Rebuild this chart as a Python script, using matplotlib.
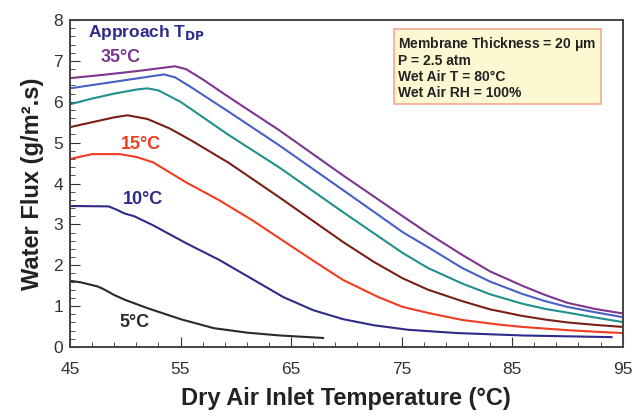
# Water flux vs dry air inlet temperature, one curve per approach dew point
import numpy as np
import matplotlib.pyplot as plt
from matplotlib.ticker import MultipleLocator

plt.rcParams['font.family'] = ['Liberation Sans', 'DejaVu Sans']

# curves
t_35 = [45, 48, 51, 54.5, 55.5, 57, 59.4, 63.9, 69.7, 75.1, 77.4, 80.5, 83, 85.9, 88, 90, 92.5, 95]
f_35 = [6.58, 6.66, 6.75, 6.87, 6.8, 6.55, 6.11, 5.31, 4.2, 3.2, 2.78, 2.25, 1.85, 1.5, 1.27, 1.08, 0.93, 0.82]

t_30 = [45, 48, 51, 53.5, 54.5, 56, 59.4, 63.9, 69.7, 75.1, 77.4, 80.5, 83, 85.9, 88, 90, 92.5, 95]
f_30 = [6.33, 6.45, 6.57, 6.67, 6.6, 6.35, 5.75, 4.94, 3.84, 2.81, 2.44, 1.93, 1.6, 1.3, 1.12, 0.98, 0.85, 0.73]

t_25 = [45, 47, 49, 51, 52, 53, 55, 59.4, 63.9, 69.7, 75.1, 77.4, 80.5, 83, 85.9, 88, 90, 92.5, 95]
f_25 = [5.94, 6.08, 6.2, 6.3, 6.33, 6.28, 6.0, 5.18, 4.4, 3.3, 2.3, 1.93, 1.55, 1.29, 1.06, 0.93, 0.84, 0.72, 0.61]

t_20 = [45, 47, 49, 50.2, 52, 54, 56, 59.4, 63.9, 69.7, 72.5, 75.1, 77.4, 80.5, 83, 85.9, 88, 90, 92.5, 95]
f_20 = [5.38, 5.5, 5.62, 5.67, 5.58, 5.35, 5.05, 4.5, 3.67, 2.57, 2.08, 1.68, 1.4, 1.12, 0.92, 0.76, 0.67, 0.6, 0.54, 0.49]

t_15 = [45, 47, 49.5, 51, 52.5, 55.5, 58.5, 61.5, 64, 66.9, 69.7, 72.9, 75.1, 77.6, 80.5, 83.7, 85.9, 90, 92.7, 95]
f_15 = [4.6, 4.72, 4.72, 4.65, 4.52, 4.03, 3.59, 3.1, 2.65, 2.13, 1.64, 1.22, 0.98, 0.82, 0.66, 0.55, 0.49, 0.41, 0.37, 0.34]

t_10 = [45, 48.5, 49.3, 49.9, 50.8, 52.5, 55.5, 58.5, 61.5, 64.3, 67, 69.7, 72.5, 75.6, 80, 86, 90, 94]
f_10 = [3.45, 3.44, 3.35, 3.27, 3.2, 2.98, 2.54, 2.13, 1.66, 1.22, 0.9, 0.68, 0.53, 0.42, 0.34, 0.28, 0.26, 0.24]

t_5 = [45, 46, 47.5, 48, 49, 50, 52, 55, 58, 61, 64, 67.9]
f_5 = [1.62, 1.58, 1.48, 1.42, 1.27, 1.15, 0.95, 0.68, 0.46, 0.35, 0.28, 0.22]

curves = [
    (t_35, f_35, '#7d3590'),
    (t_30, f_30, '#4660c8'),
    (t_25, f_25, '#21908a'),
    (t_20, f_20, '#7a1e18'),
    (t_15, f_15, '#f23c22'),
    (t_10, f_10, '#2e2a88'),
    (t_5, f_5, '#2a2a2a'),
]

fig = plt.figure(figsize=(6.33, 4.19), dpi=100)
ax = fig.add_axes([0.1106, 0.172, 0.873, 0.78])

for t, f, c in curves:
    ax.plot(t, f, color=c, lw=1.5, solid_joinstyle='round')

ax.set_xlim(45, 95)
ax.set_ylim(0, 8)
ax.set_xticks(np.arange(45, 96, 10))
ax.set_xticks(np.arange(45, 96, 2), minor=True)
ax.yaxis.set_major_locator(MultipleLocator(1))
ax.yaxis.set_minor_locator(MultipleLocator(0.2))
ax.tick_params(which='both', direction='in', colors='#333333', labelcolor='#333333')
ax.tick_params(axis='x', which='major', length=7, pad=11, labelsize=12.5)
ax.tick_params(axis='y', which='major', length=7, pad=5, labelsize=12.5)
ax.tick_params(which='minor', length=3.5)
for s in ax.spines.values():
    s.set_color('#444444')
    s.set_linewidth(1.4)

ax.set_xlabel('Dry Air Inlet Temperature (°C)', fontsize=17, fontweight='bold',
              color='#222222', labelpad=7)
ax.set_ylabel('Water Flux (g/m².s)', fontsize=17, fontweight='bold',
              color='#222222', labelpad=7)

# curve labels
ax.text(46.6, 7.7, 'Approach T$_{\\mathbf{DP}}$', color='#2e2a88', fontsize=12.5,
        fontweight='bold', va='center')
ax.text(49.6, 7.08, '35°C', color='#7d3590', fontsize=13, fontweight='bold',
        ha='center', va='center')
ax.text(51.4, 4.96, '15°C', color='#f23c22', fontsize=13, fontweight='bold',
        ha='center', va='center')
ax.text(51.6, 3.62, '10°C', color='#2e2a88', fontsize=13, fontweight='bold',
        ha='center', va='center')
ax.text(50.8, 0.61, '5°C', color='#2a2a2a', fontsize=13, fontweight='bold',
        ha='center', va='center')

# conditions box
info = ('Membrane Thickness = 20 $\\mathregular{\\mu m}$\n'
        'P = 2.5 atm\n'
        'Wet Air T = 80°C\n'
        'Wet Air RH = 100%')
ax.text(0.594, 0.955, info, transform=ax.transAxes, fontsize=10, fontweight='bold',
        color='#222222', va='top', ha='left', linespacing=1.15,
        bbox=dict(boxstyle='square,pad=0.3', facecolor='#fdf8d2',
                  edgecolor='#f4a88c', linewidth=1.2))

fig.savefig('out.png', dpi=100)
